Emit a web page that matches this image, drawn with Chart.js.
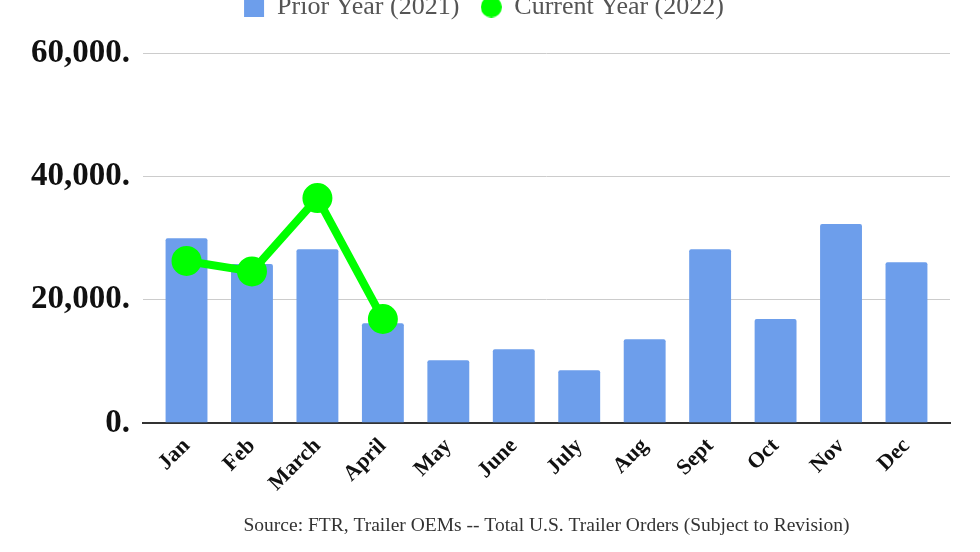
<!DOCTYPE html>
<html>
<head>
<meta charset="utf-8">
<script src="https://cdn.jsdelivr.net/npm/chart.js@4"></script>
<style>
  html, body { margin: 0; padding: 0; background: #fff; }
  #wrap { width: 980px; height: 552px; position: relative; }
</style>
</head>
<body>
<div id="wrap"><canvas id="ordersChart"></canvas></div>
<script>
const months = ['Jan', 'Feb', 'March', 'April', 'May', 'June', 'July', 'Aug', 'Sept', 'Oct', 'Nov', 'Dec'];
const prior2021 = [30000, 25800, 28200, 16200, 10200, 12000, 8600, 13600, 28200, 16900, 32300, 26100];
const current2022 = [26300, 24600, 36500, 16900];
const yTicks = [0, 20000, 40000, 60000];

function toPoints(values) {
    return values.map(function (v, i) { return { x: i, y: v }; });
}

// small green dot for the legend (the dataset's point is bigger)
const legendDot = document.createElement('canvas');
legendDot.width = 21;
legendDot.height = 21;
const dotCtx = legendDot.getContext('2d');
dotCtx.fillStyle = '#00ff00';
dotCtx.beginPath();
dotCtx.arc(10.5, 10.5, 10.5, 0, Math.PI * 2);
dotCtx.fill();

// push the plot down below the (partly clipped) legend
const legendGap = {
    id: 'legendGap',
    beforeInit: function (chart) {
        const fit = chart.legend.fit;
        chart.legend.fit = function () {
            fit.call(this);
            this.height += 23;
        };
    }
};

const ctx = document.getElementById('ordersChart').getContext('2d');
const chart = new Chart(ctx, {
    data: {
        datasets: [{
            type: 'line',
            label: 'Current Year (2022)',
            data: toPoints(current2022),
            borderColor: '#00ff00',
            backgroundColor: '#00ff00',
            borderWidth: 8,
            pointRadius: 11,
            pointHoverRadius: 11,
            pointStyle: 'circle',
            order: 0
        }, {
            type: 'bar',
            label: 'Prior Year (2021)',
            data: toPoints(prior2021),
            backgroundColor: '#6d9eeb',
            borderRadius: 2,
            borderSkipped: 'bottom',
            categoryPercentage: 0.8,
            barPercentage: 0.8,
            pointStyle: 'rect',
            order: 1
        }]
    },
    options: {
        responsive: true,
        maintainAspectRatio: false,
        animation: false,
        layout: {
            padding: { top: -28, right: 30, left: 18, bottom: 14 }
        },
        scales: {
            x: {
                type: 'linear',
                offset: false,
                min: -0.665,
                max: 11.665,
                afterBuildTicks: function (axis) {
                    axis.ticks = months.map(function (m, i) { return { value: i }; });
                },
                grid: { display: false, drawTicks: false, offset: false },
                border: { color: '#333', width: 2 },
                ticks: {
                    autoSkip: false,
                    minRotation: 45,
                    maxRotation: 45,
                    padding: 10,
                    color: '#111',
                    font: { family: 'Liberation Serif', size: 22, weight: 'bold' },
                    callback: function (value) { return months[value]; }
                }
            },
            y: {
                min: 0,
                max: 60000,
                afterBuildTicks: function (axis) {
                    axis.ticks = yTicks.map(function (v) { return { value: v }; });
                },
                grid: {
                    color: function (c) { return c.tick && c.tick.value === 0 ? '#333' : '#cccccc'; },
                    lineWidth: function (c) { return c.tick && c.tick.value === 0 ? 2 : 1; },
                    drawTicks: false
                },
                border: { display: false },
                ticks: {
                    padding: 13,
                    color: '#111',
                    font: { family: 'Liberation Serif', size: 33, weight: 'bold' },
                    callback: function (value) { return value.toLocaleString('en-US') + '.'; }
                }
            }
        },
        plugins: {
            legend: {
                position: 'top',
                reverse: true,
                labels: {
                    usePointStyle: true,
                    boxWidth: 20,
                    boxHeight: 20,
                    padding: 22,
                    color: '#555',
                    font: { family: 'Liberation Serif', size: 26 },
                    generateLabels: function (chart) {
                        return Chart.defaults.plugins.legend.labels.generateLabels(chart).map(function (item) {
                            item.lineWidth = 0;
                            if (item.pointStyle === 'circle') {
                                item.pointStyle = legendDot;
                            }
                            return item;
                        });
                    }
                }
            },
            title: {
                display: true,
                position: 'bottom',
                fullSize: false,
                text: 'Source: FTR, Trailer OEMs -- Total U.S. Trailer Orders (Subject to Revision)',
                color: '#333',
                padding: { top: 8, bottom: 0 },
                font: { family: 'Liberation Serif', size: 19.5, weight: 'normal' }
            },
            tooltip: { enabled: false }
        }
    },
    plugins: [legendGap]
});
</script>
</body>
</html>
